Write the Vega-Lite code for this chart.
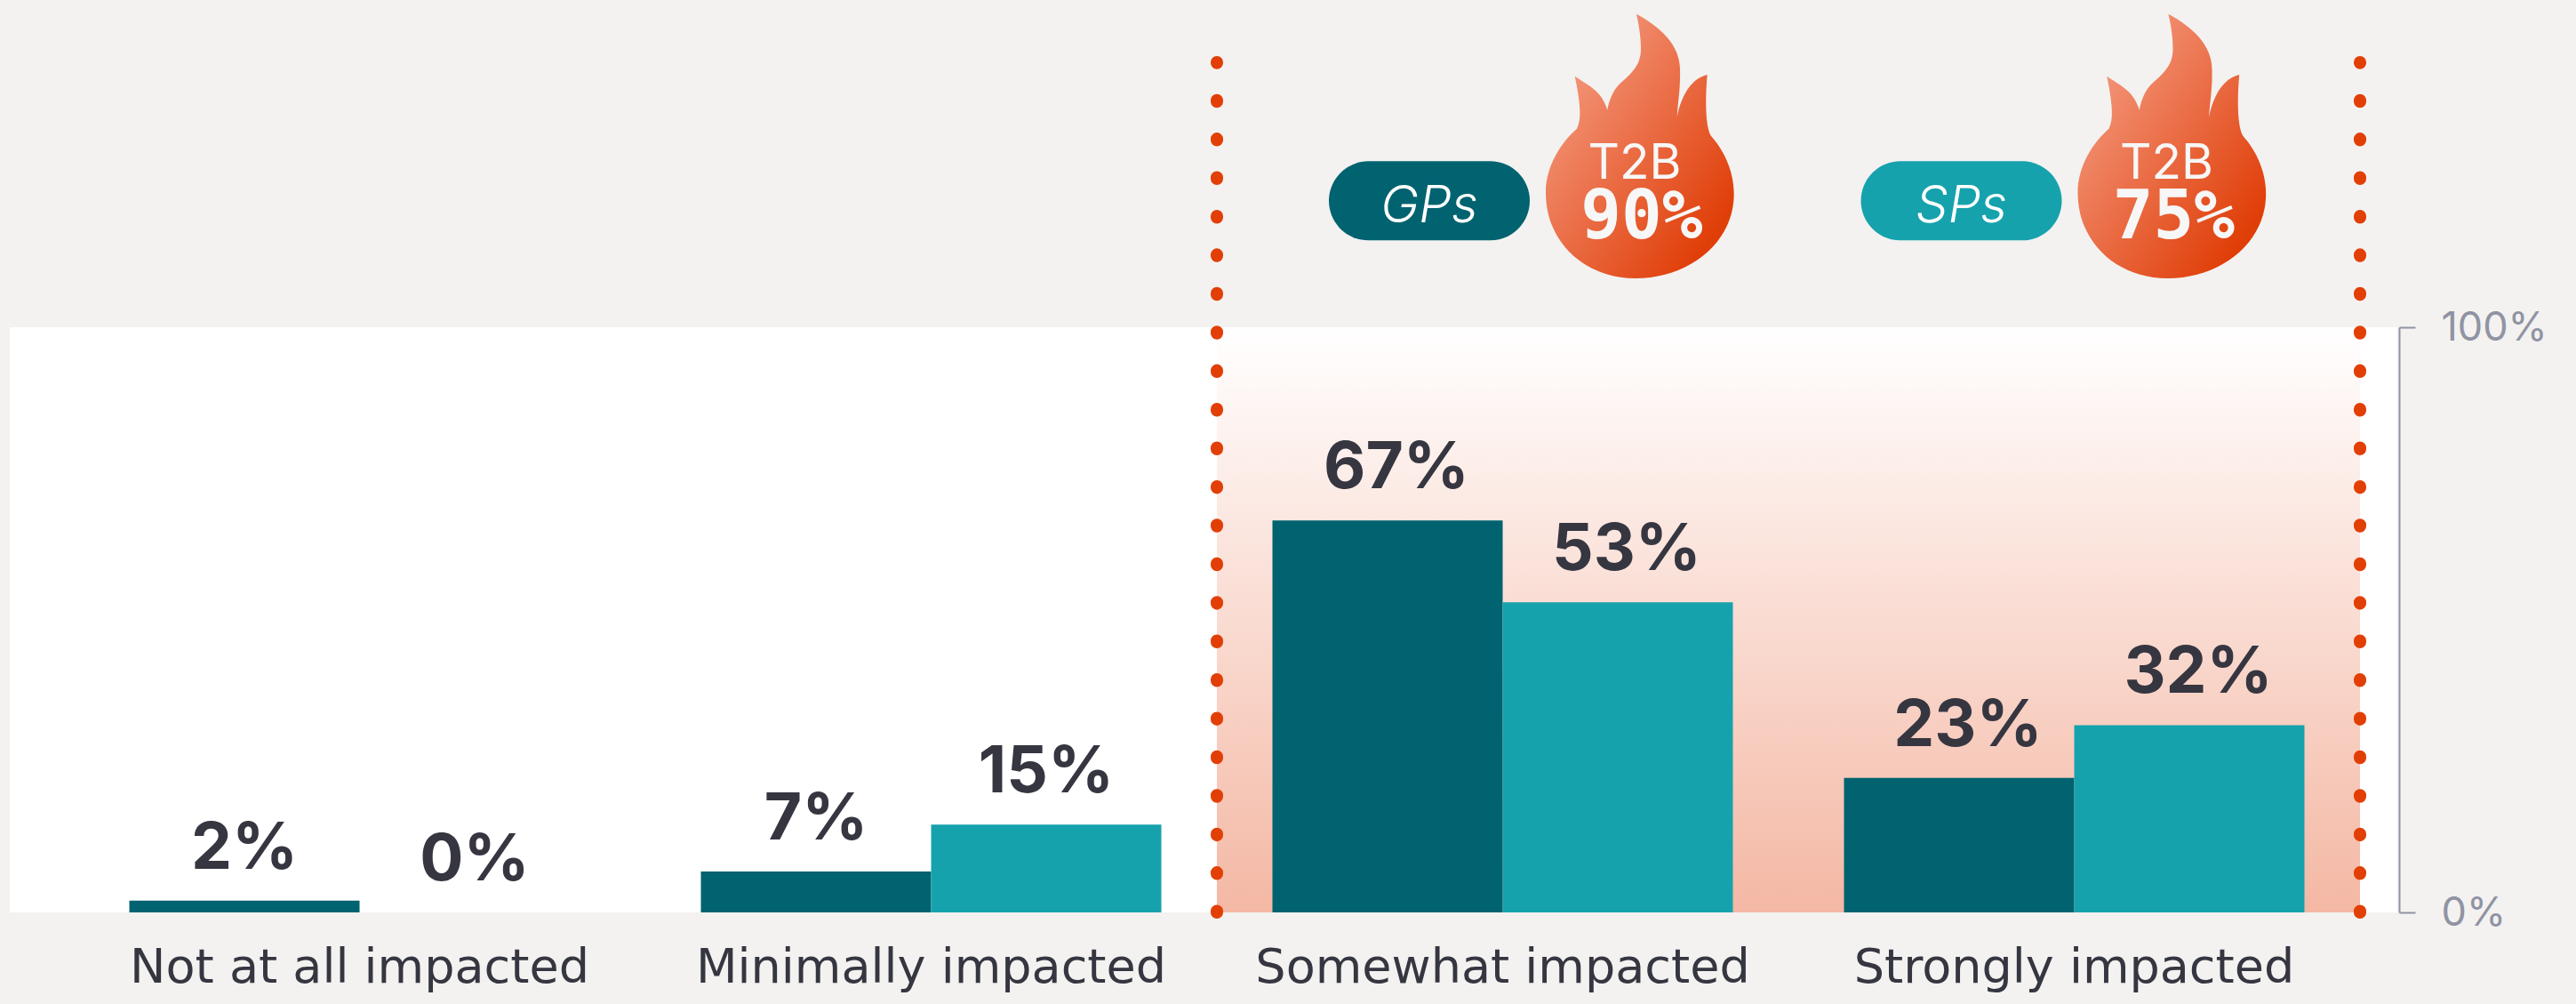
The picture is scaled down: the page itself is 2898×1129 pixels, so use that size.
{
"$schema":"https://vega.github.io/schema/vega-lite/v6.json",
"background":"#f3f2f0",
"autosize":{"type":"none"},
"padding":{"left":11,"top":368,"right":201,"bottom":103},
"width":2686,"height":658,
"view":{"fill":"#ffffff","stroke":null},
"config":{"view":{"fill":"#ffffff","stroke":null}},
"datasets":{"bars":[
  {"category":"Not at all impacted","group":"GPs","value":2,"label":"2%"},
  {"category":"Not at all impacted","group":"SPs","value":0,"label":"0%"},
  {"category":"Minimally impacted","group":"GPs","value":7,"label":"7%"},
  {"category":"Minimally impacted","group":"SPs","value":15,"label":"15%"},
  {"category":"Somewhat impacted","group":"GPs","value":67,"label":"67%"},
  {"category":"Somewhat impacted","group":"SPs","value":53,"label":"53%"},
  {"category":"Strongly impacted","group":"GPs","value":23,"label":"23%"},
  {"category":"Strongly impacted","group":"SPs","value":32,"label":"32%"}],
 "badges":[{"group":"GPs","t2b":"T2B","pct":"90%"},{"group":"SPs","t2b":"T2B","pct":"75%"}]},
"layer":[
 {"data":{"values":[{"category":"Somewhat impacted"},{"category":"Strongly impacted"}]},
  "mark":{"type":"rect","fill":{"gradient":"linear","x1":0,"y1":0,"x2":0,"y2":1,"stops":[{"offset":0,"color":"#ffffff"},{"offset":1,"color":"#f4b8a4"}]}},
  "encoding":{
   "x":{"field":"category","type":"nominal","scale":{"domain":["Not at all impacted","Minimally impacted","Somewhat impacted","Strongly impacted"],"range":[72,2644],"paddingInner":0,"paddingOuter":0,"round":false},"axis":null},
   "y":{"datum":0,"type":"quantitative","scale":{"domain":[0,100],"nice":false},
    "axis":{"title":null,"orient":"right","grid":false,"values":[0,100],"labelExpr":"datum.value+'%'","offset":2,"tickSize":18,"tickWidth":2,"domainWidth":2,"tickColor":"#9093a3","domainColor":"#9093a3","labelColor":"#9093a3","labelFont":"Inter","labelFontWeight":400,"labelFontSize":45,"labelPadding":29}},
   "y2":{"datum":100}}},
 {"data":{"name":"bars"},
  "mark":{"type":"bar"},
  "encoding":{
   "x":{"field":"category","type":"nominal","scale":{"domain":["Not at all impacted","Minimally impacted","Somewhat impacted","Strongly impacted"],"range":[72,2644],"paddingInner":0,"paddingOuter":0,"round":false},
    "axis":{"title":null,"domain":false,"ticks":false,"labelAngle":0,"labelFont":"DejaVu Sans","labelFontWeight":400,"labelFontSize":54,"labelColor":"#363641","labelPadding":35,"labelLimit":0,"labelOverlap":false}},
   "xOffset":{"field":"group","type":"nominal","scale":{"domain":["GPs","SPs"],"paddingInner":0,"paddingOuter":0.2413}},
   "y":{"field":"value","type":"quantitative","scale":{"domain":[0,100],"nice":false},"axis":null},
   "color":{"field":"group","type":"nominal","scale":{"domain":["GPs","SPs"],"range":["#016270","#16a2ad"]},"legend":null}}},
 {"data":{"name":"bars"},
  "transform":[{"filter":"datum.value < 20"}],
  "mark":{"type":"text","font":"Inter","fontWeight":700,"fontSize":73,"color":"#363641","baseline":"alphabetic","dy":-36},
  "encoding":{
   "x":{"field":"category","type":"nominal","scale":{"domain":["Not at all impacted","Minimally impacted","Somewhat impacted","Strongly impacted"],"range":[72,2644],"paddingInner":0,"paddingOuter":0,"round":false},"axis":null},
   "xOffset":{"field":"group","type":"nominal","scale":{"domain":["GPs","SPs"],"paddingInner":0,"paddingOuter":0.2413}},
   "y":{"field":"value","type":"quantitative","scale":{"domain":[0,100],"nice":false},"axis":null},
   "text":{"field":"label","type":"nominal"}}},
 {"data":{"name":"bars"},
  "transform":[{"filter":"datum.value >= 20"}],
  "mark":{"type":"text","font":"Inter","fontWeight":700,"fontSize":73,"color":"#363641","baseline":"alphabetic","dy":-36,"dx":10},
  "encoding":{
   "x":{"field":"category","type":"nominal","scale":{"domain":["Not at all impacted","Minimally impacted","Somewhat impacted","Strongly impacted"],"range":[72,2644],"paddingInner":0,"paddingOuter":0,"round":false},"axis":null},
   "xOffset":{"field":"group","type":"nominal","scale":{"domain":["GPs","SPs"],"paddingInner":0,"paddingOuter":0.2413}},
   "y":{"field":"value","type":"quantitative","scale":{"domain":[0,100],"nice":false},"axis":null},
   "text":{"field":"label","type":"nominal"}}},
 {"data":{"values":[{"category":"Somewhat impacted"}]},
  "mark":{"type":"rule","color":"#e23f06","strokeWidth":14,"strokeCap":"round","strokeDash":[1.5,41.92]},
  "encoding":{
   "x":{"field":"category","type":"nominal","bandPosition":0,"scale":{"domain":["Not at all impacted","Minimally impacted","Somewhat impacted","Strongly impacted"],"range":[72,2644],"paddingInner":0,"paddingOuter":0,"round":false},"axis":null},
   "y":{"datum":0,"type":"quantitative","scale":{"domain":[0,100],"nice":false},"axis":null},
   "y2":{"datum":145.3}}},
 {"data":{"values":[{"category":"Strongly impacted"}]},
  "mark":{"type":"rule","color":"#e23f06","strokeWidth":14,"strokeCap":"round","strokeDash":[1.5,41.92]},
  "encoding":{
   "x":{"field":"category","type":"nominal","bandPosition":1,"scale":{"domain":["Not at all impacted","Minimally impacted","Somewhat impacted","Strongly impacted"],"range":[72,2644],"paddingInner":0,"paddingOuter":0,"round":false},"axis":null},
   "y":{"datum":0,"type":"quantitative","scale":{"domain":[0,100],"nice":false},"axis":null},
   "y2":{"datum":145.3}}},
 {"data":{"name":"badges"},
  "mark":{"type":"point","filled":true,"opacity":1,"size":4,"shape":"M-68.5,-44.5 H68.5 A44.5,44.5 0 0 1 68.5,44.5 H-68.5 A44.5,44.5 0 0 1 -68.5,-44.5 Z"},
  "encoding":{
   "x":{"field":"group","type":"nominal","scale":{"type":"point","domain":["GPs","SPs"],"range":[1597,2195.5],"padding":0},"axis":null},
   "y":{"datum":121.6,"type":"quantitative","scale":{"domain":[0,100],"nice":false},"axis":null},
   "color":{"field":"group","type":"nominal","scale":{"domain":["GPs","SPs"],"range":["#016270","#16a2ad"]},"legend":null}}},
 {"data":{"name":"badges"},
  "mark":{"type":"text","font":"Inter","fontStyle":"italic","fontWeight":300,"fontSize":58,"color":"#ffffff","baseline":"alphabetic"},
  "encoding":{
   "x":{"field":"group","type":"nominal","scale":{"type":"point","domain":["GPs","SPs"],"range":[1597,2195.5],"padding":0},"axis":null},
   "y":{"datum":118,"type":"quantitative","scale":{"domain":[0,100],"nice":false},"axis":null},
   "text":{"field":"group","type":"nominal"}}},
 {"data":{"name":"badges"},
  "mark":{"type":"point","filled":true,"opacity":1,"size":4,"xOffset":237,"fill":{"gradient":"linear","x1":0.1,"y1":0.15,"x2":0.85,"y2":0.88,"stops":[{"offset":0,"color":"#f49a80"},{"offset":1,"color":"#e03e08"}]},
    "shape":"M-4,-149 C21.7,-135 45,-115 45,-86.7 C45.7,-65 42.3,-48.3 41.7,-33.3 C46.7,-58.3 58.3,-76.7 75.7,-80.7 C73.3,-55 73.3,-21.7 80,-11.7 C95,5 105.7,28.3 105.7,53.3 C105.7,108.3 55,148.3 -5,148.3 C-61.7,148.3 -106,108.3 -106,51.7 C-106,21.7 -88.3,-5 -71,-20 C-65,-31.7 -67.7,-51.7 -73.3,-79 C-58.3,-68.3 -43.3,-63.3 -36.7,-41 C-35,-51.7 -30,-63.3 -23.3,-70 C-8.3,-83.3 1,-91.7 1,-110 C1,-125 -1.7,-138.3 -4,-149 Z"},
  "encoding":{
   "x":{"field":"group","type":"nominal","scale":{"type":"point","domain":["GPs","SPs"],"range":[1597,2195.5],"padding":0},"axis":null},
   "y":{"datum":130.9,"type":"quantitative","scale":{"domain":[0,100],"nice":false},"axis":null}}},
 {"data":{"name":"badges"},
  "mark":{"type":"text","font":"Inter","fontWeight":400,"fontSize":55,"color":"#f7f7f7","baseline":"alphabetic","xOffset":231},
  "encoding":{
   "x":{"field":"group","type":"nominal","scale":{"type":"point","domain":["GPs","SPs"],"range":[1597,2195.5],"padding":0},"axis":null},
   "y":{"datum":125.4,"type":"quantitative","scale":{"domain":[0,100],"nice":false},"axis":null},
   "text":{"field":"t2b","type":"nominal"}}},
 {"data":{"name":"badges"},
  "mark":{"type":"text","font":"DejaVu Sans Mono","fontWeight":700,"fontSize":76,"color":"#f7f7f7","baseline":"alphabetic","xOffset":239},
  "encoding":{
   "x":{"field":"group","type":"nominal","scale":{"type":"point","domain":["GPs","SPs"],"range":[1597,2195.5],"padding":0},"axis":null},
   "y":{"datum":115.2,"type":"quantitative","scale":{"domain":[0,100],"nice":false},"axis":null},
   "text":{"field":"pct","type":"nominal"}}}
],
"resolve":{"scale":{"x":"independent","color":"independent"},"axis":{"y":"independent"}}
}
